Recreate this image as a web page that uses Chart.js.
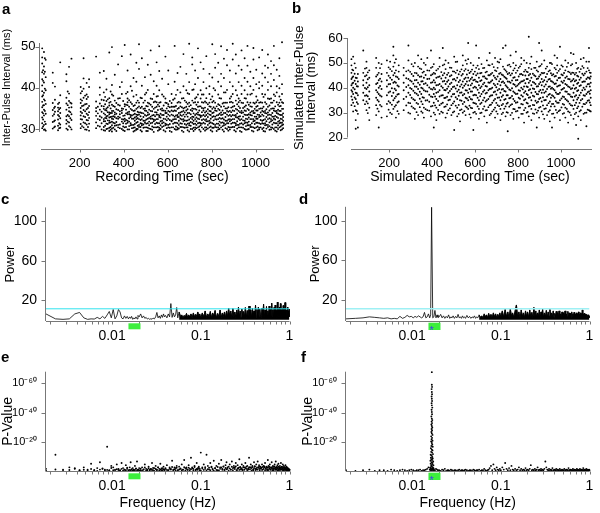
<!DOCTYPE html>
<html>
<head>
<meta charset="utf-8">
<script src="https://cdn.jsdelivr.net/npm/chart.js@4.4.0/dist/chart.umd.min.js"></script>
<style>
  body { margin: 0; background: #fff; }
  #fig { position: relative; width: 600px; height: 513px; overflow: hidden; }
  #fig canvas { position: absolute; }
  .tag { position: absolute; font: bold 15px/15px "Liberation Sans", Arial, sans-serif; color: #000; }
</style>
</head>
<body>
<div id="fig">
  <canvas id="panelA" width="300" height="190" style="left:0;top:0"></canvas>
  <canvas id="panelB" width="310" height="190" style="left:290px;top:0"></canvas>
  <canvas id="panelC" width="300" height="160" style="left:0;top:190px"></canvas>
  <canvas id="panelD" width="300" height="160" style="left:300px;top:190px"></canvas>
  <canvas id="panelE" width="300" height="173" style="left:0;top:340px"></canvas>
  <canvas id="panelF" width="300" height="173" style="left:300px;top:340px"></canvas>
  <div class="tag" style="left:2px;top:1px">a</div>
  <div class="tag" style="left:292px;top:0">b</div>
  <div class="tag" style="left:1px;top:191px">c</div>
  <div class="tag" style="left:299px;top:191px">d</div>
  <div class="tag" style="left:1px;top:349px">e</div>
  <div class="tag" style="left:301px;top:349px">f</div>
</div>
<script>
// ---- data ----

// a: recorded inter-pulse intervals, grouped in recording bouts (time in sec, ipi in ms)
const stripeTimesA = [30, 38, 46, 78, 88, 102, 112, 140, 152, 163, 205, 218, 232, 243, 275, 292,
  310, 322, 335, 347, 360, 375, 392, 405, 418, 432, 445, 458, 470, 483, 497, 510, 523, 537, 550, 562,
  575, 590, 603, 618, 632, 645, 658, 672, 685, 698, 712, 725, 738, 750, 763, 776, 790, 803, 816, 830,
  843, 856, 870, 883, 896, 910, 923, 936, 950, 963, 976, 990, 1003, 1016, 1030, 1043, 1056, 1070,
  1083, 1096, 1108, 1120];
const stripeIpiA = [
  [30.2,31.4,32.8,34.1,35.3,36.6,37.9,39.2,40.6,42.1,43.8,45.9,47.4,49.6],
  [29.8,31.0,33.3,34.7,35.8,37.2,38.8,41.3,43.4,45.2,48.7],
  [29.6,31.2,33.7,36.1,39.4,42.6,46.8],
  [30.1,31.7,33.2,34.6,36.3,41.2,43.7],
  [30.6,32.1,34.2,35.4,37.1,40.3],
  [29.7,30.8,32.3,33.4,34.3,35.2,36.1],
  [30.3,31.1,32.6,33.9,35.1,38.2,46.2],
  [30.1,31.3,32.2,33.1,34.7,36.2,37.6,41.6,43.3],
  [30.7,31.6,33.1,34.3,35.2,36.8,38.6,45.1],
  [29.9,32.2,33.6,35.3,36.2,47.1],
  [30.2,31.2,32.4,33.3,34.2,35.1,36.3,37.2,38.7,40.2],
  [30.4,31.6,33.1,34.6,35.7,37.6,39.8,42.3,47.2],
  [29.8,31.1,32.2,33.7,34.8,36.1,37.3,38.4,41.2],
  [29.6,31.3,32.7,34.1,35.6,40.2,42.1],
  [30.2,31.6,33.2,34.3,35.1,36.7,47.6],
  [30.6,32.2,33.1,34.7,36.2,38.3,40.1,43.7],
  [29.7,30.5,31.9,32.4,33.8,34.9,35.5,37.0,38.9,44.1],
  [30.0,31.3,32.6,33.1,34.5,35.0,36.8,39.6,42.2],
  [29.5,30.3,31.5,32.0,32.8,33.6,34.0,35.7,36.4,37.5,48.6],
  [29.4,30.1,30.9,31.8,32.5,33.0,33.9,34.4,35.9,38.4,40.7,49.9],
  [29.9,30.8,31.4,32.9,33.5,34.0,35.4,36.9,43.2],
  [30.4,31.0,32.5,33.0,34.6,35.9,37.4,45.7],
  [30.0,31.8,32.4,33.9,34.5,35.0,38.5,41.4,47.7],
  [29.5,30.4,31.9,32.5,33.3,35.5,36.0,50.4],
  [29.9,31.5,32.0,33.6,34.0,35.8,36.5,37.4,39.0,44.2],
  [30.9,31.4,32.9,33.4,34.9,36.5,40.4,48.1],
  [29.4,30.3,31.0,32.5,33.5,34.4,35.6,37.9,42.4],
  [29.8,30.0,31.5,32.4,33.0,33.5,34.9,36.4,38.3,41.5,46.1],
  [30.5,31.0,32.4,33.5,34.0,35.5,36.4,50.6,44.6],
  [29.4,30.9,31.3,32.4,33.9,35.4,37.5,40.5,47.2],
  [30.4,31.5,32.0,33.4,34.5,35.0,36.9,38.4,42.6],
  [29.5,30.3,31.4,32.5,33.4,34.0,35.5,36.4,39.5,45.6],
  [30.0,31.4,32.5,33.0,34.4,35.9,37.4,43.2,49.1],
  [29.3,30.4,31.9,32.3,33.4,34.9,36.5,38.5,41.6],
  [30.4,31.5,32.4,33.5,34.0,35.4,36.5,37.9,40.5,46.2],
  [29.8,30.3,31.4,32.9,33.3,35.5,36.4,39.4,44.1,50.1],
  [30.5,31.4,32.0,33.4,34.5,35.0,38.4,42.2],
  [29.4,30.9,31.3,32.4,33.9,34.4,36.4,37.4,47.6],
  [30.4,31.0,32.5,33.5,34.4,35.5,36.0,40.9,44.2],
  [29.3,30.4,31.9,32.0,33.5,34.5,35.4,36.3,38.5],
  [30.0,31.5,32.4,33.0,34.5,35.4,37.4,41.5,50.2],
  [29.9,30.3,31.4,32.9,33.4,34.9,36.4,39.5,43.6],
  [30.5,31.4,32.5,33.4,34.0,35.5,36.4,38.9,45.1],
  [29.3,30.4,31.9,32.4,33.5,34.4,35.0,37.5,40.4,48.2],
  [30.4,31.0,32.0,33.5,34.5,35.4,36.5,39.4,43.4],
  [29.4,30.9,31.4,32.3,33.9,35.5,36.4,38.5,41.4,50.7],
  [30.0,31.5,32.4,33.0,34.4,35.0,36.9,39.5,45.7,47.4],
  [29.9,30.4,31.3,32.4,33.4,34.9,36.5,37.4,40.9,44.2],
  [30.4,31.4,32.5,33.5,34.0,35.4,36.5,38.4,42.4,49.6],
  [29.4,30.9,31.4,32.9,33.3,35.5,37.4,39.4,46.2],
  [30.0,31.5,32.4,33.4,34.5,35.0,36.4,38.4,41.4,44.6],
  [29.9,30.4,31.9,32.4,33.4,34.3,36.4,37.5,39.9,47.7],
  [30.4,31.4,32.0,33.5,34.4,35.5,36.4,38.5,40.4,43.4],
  [29.4,30.3,31.4,32.9,33.9,34.9,36.5,37.9,42.5,50.6],
  [30.5,31.0,32.4,33.0,34.5,35.0,36.4,39.4,44.9,48.2],
  [29.9,30.4,31.3,32.4,33.4,34.9,36.0,38.4,41.5,46.1],
  [30.4,31.5,32.5,33.4,34.0,35.4,37.4,40.4,43.4,50.1],
  [29.4,30.9,31.4,32.3,33.9,35.5,36.4,38.9,42.4,47.1],
  [30.0,31.4,32.0,33.5,34.4,35.0,36.4,39.5,45.5,49.2],
  [29.9,30.4,31.9,32.4,33.4,34.4,36.5,37.4,41.4,44.2],
  [30.5,31.5,32.4,33.4,34.5,35.4,36.4,38.5,40.4,46.9,50.7],
  [29.4,30.9,31.4,32.9,33.4,34.9,36.9,39.4,43.5,48.1],
  [30.4,31.0,32.5,33.0,34.4,35.5,36.5,37.4,41.4,45.4],
  [29.3,30.4,31.4,32.4,33.9,34.4,36.4,38.5,40.5,44.4,49.1],
  [30.0,31.4,32.0,33.5,34.5,35.4,37.5,39.4,42.4,47.2],
  [29.9,30.9,31.5,32.4,33.4,34.9,36.5,38.4,41.5,45.4,50.2],
  [30.5,31.0,32.4,33.4,34.0,35.5,36.4,38.4,40.4,43.9],
  [29.4,30.4,31.9,32.4,33.9,34.4,36.4,39.5,42.4,46.9,49.7],
  [30.4,31.5,32.5,33.0,34.5,35.4,36.5,37.9,40.9,44.4],
  [29.9,30.3,31.4,32.9,33.4,34.9,36.4,39.9,41.4,47.4],
  [30.0,31.4,32.0,33.5,34.4,35.0,36.4,38.5,40.5,43.5,49.2],
  [29.4,30.9,31.4,32.4,33.9,34.4,36.5,38.4,42.5,45.4],
  [30.5,31.0,32.4,33.4,34.0,35.4,37.4,39.5,41.4,44.9,48.1],
  [29.9,30.4,31.9,32.4,33.4,34.9,36.4,37.4,40.4,43.4,46.5],
  [30.0,31.5,32.5,33.0,34.5,35.0,36.9,38.4,41.9,45.5,50.2],
  [29.4,30.4,31.4,32.9,33.9,34.4,36.5,38.9,40.4,44.4],
  [30.4,31.4,32.0,33.5,34.4,35.5,36.4,37.9,39.9,42.9,47.2],
  [29.9,30.9,31.5,32.4,33.4,34.9,36.5,38.5,40.9,51.1]
];
// a: the crowded 30-37 ms band between the bouts above
const bandTimesA = [34, 42, 84, 107, 146, 158, 211, 225, 238, 283, 300,
  316, 328, 341, 353, 367, 383, 398, 411, 425, 438, 451, 464, 477, 490, 503, 516, 530, 543, 556, 568,
  582, 596, 610, 625, 638, 651, 665, 678, 691, 705, 718, 731, 744, 756, 770, 783, 796, 809, 823, 836,
  850, 863, 876, 889, 903, 916, 929, 943, 956, 969, 983, 996, 1009, 1023, 1036, 1049, 1063, 1076,
  1089, 1102, 1114, 1125];
const bandIpiA = [
  [30.6,32.3,33.8,35.7,38.2,41.7,44.3], [29.9,31.8,34.4,36.9,39.8,43.9,47.2], [30.4,31.9,33.6,35.1],
  [30.2,31.4,33.1,34.8,36.4], [29.8,31.8,33.4,35.8,39.1], [30.4,32.6,34.1,36.4],
  [30.7,32.3,33.9,35.6,36.9,39.2], [29.9,31.4,32.9,34.3,36.0,38.1], [30.5,32.1,33.4,35.1,37.8],
  [30.8,32.4,33.8,35.4], [29.9,31.4,32.8,34.2,35.6,37.1],
  [29.6,30.8,31.9,32.7,33.5,34.6,36.0,37.8], [30.1,31.2,32.1,33.2,34.1,35.3,37.2],
  [29.8,30.5,31.6,32.9,33.9,35.0,36.6,39.1], [30.3,31.5,32.4,33.1,34.4,35.6,38.1],
  [29.5,30.9,31.7,32.6,33.7,34.8,36.3], [30.2,31.1,32.8,33.6,34.3,35.7,37.5,40.2],
  [29.7,30.6,31.4,32.3,33.2,34.9,36.8], [30.5,31.3,32.2,33.8,34.7,35.9,38.6],
  [29.9,30.7,31.8,32.6,33.6,34.2,35.4,37.0], [30.2,31.0,32.5,33.3,34.6,36.1,39.3],
  [29.6,30.4,31.2,32.0,32.8,33.7,34.5,35.8], [30.0,30.8,31.7,32.6,33.4,34.2,35.2,36.9],
  [29.7,30.5,31.4,32.2,33.1,34.0,35.1,37.6], [30.3,31.1,32.0,32.9,33.8,34.9,36.4],
  [29.5,30.4,31.3,32.3,33.2,34.4,35.6,38.8], [30.1,30.9,31.8,32.7,33.6,34.7,36.2],
  [29.8,30.6,31.5,32.5,33.3,34.3,35.4,37.3], [30.4,31.2,32.2,33.1,34.1,35.2,36.7],
  [29.6,30.5,31.4,32.4,33.5,34.6,35.9,38.0], [30.0,30.9,31.9,32.8,33.7,34.8,36.5],
  [29.7,30.7,31.6,32.5,33.4,34.5,35.7,37.9], [30.2,31.1,32.1,33.0,33.9,35.0,36.3],
  [29.5,30.3,31.2,32.2,33.2,34.2,35.3,36.8], [30.4,31.3,32.3,33.3,34.3,35.4,37.1],
  [29.8,30.6,31.5,32.4,33.3,34.4,35.6,38.3], [30.1,31.0,32.0,32.9,33.9,35.1,36.6],
  [29.6,30.5,31.3,32.3,33.2,34.2,35.3,37.4], [30.3,31.2,32.1,33.0,34.0,35.2,36.9],
  [29.7,30.4,31.3,32.1,33.0,33.9,34.8,36.1,38.7], [30.0,30.8,31.7,32.7,33.6,34.6,35.8],
  [29.5,30.3,31.2,32.0,32.9,33.8,34.9,36.4,39.6], [30.2,31.0,31.9,32.8,33.7,34.7,35.9,37.7],
  [29.8,30.6,31.5,32.4,33.4,34.5,35.5], [30.4,31.3,32.2,33.2,34.1,35.1,36.5,38.4],
  [29.6,30.4,31.3,32.2,33.1,34.0,35.2,36.7], [30.1,31.0,31.9,32.9,33.8,34.8,36.0],
  [29.7,30.6,31.6,32.5,33.4,34.3,35.4,37.2], [30.3,31.2,32.1,33.1,34.0,35.3,36.8,39.9],
  [29.5,30.4,31.3,32.3,33.3,34.4,35.5], [30.0,30.9,31.8,32.7,33.7,34.6,35.8,37.5],
  [29.8,30.7,31.6,32.6,33.5,34.5,36.2], [30.2,31.1,32.0,32.9,33.9,35.0,36.4,38.9],
  [29.6,30.5,31.4,32.3,33.2,34.2,35.3], [30.4,31.3,32.2,33.1,34.1,35.2,36.6,37.9],
  [29.7,30.5,31.5,32.4,33.3,34.4,35.6], [30.1,31.0,31.9,32.8,33.8,34.7,36.0,38.2],
  [29.5,30.4,31.3,32.2,33.1,34.1,35.1,36.9], [30.3,31.1,32.1,33.0,34.0,35.1,36.3],
  [29.8,30.7,31.6,32.5,33.4,34.4,35.7,37.4], [30.0,30.9,31.8,32.8,33.6,34.6,35.9],
  [29.6,30.5,31.4,32.4,33.3,34.3,35.4,38.6], [30.2,31.2,32.0,33.0,33.9,34.9,36.2],
  [29.7,30.6,31.5,32.5,33.5,34.5,35.6,37.0], [30.4,31.2,32.2,33.1,34.0,35.0,36.5],
  [29.5,30.3,31.3,32.2,33.2,34.2,35.4,37.8], [30.1,31.0,31.9,32.9,33.8,34.8,36.1],
  [29.8,30.7,31.6,32.6,33.5,34.5,35.7,37.3], [30.3,31.1,32.1,33.0,33.9,35.0,36.4],
  [29.6,30.4,31.4,32.3,33.2,34.3,35.5,38.0], [30.0,30.9,31.8,32.7,33.7,34.7,35.9],
  [29.7,30.6,31.5,32.5,33.4,34.4,35.6,37.1], [30.2,31.1,32.0,32.9,33.8,34.9,36.3]
];

// b: simulated inter-pulse intervals
const stripeTimesB = [25, 33, 45, 55, 80, 95, 108, 140, 152, 165, 190, 205, 220, 232, 245, 268, 290,
  305, 320, 335, 350, 362, 378, 395, 408, 420, 435, 450, 463, 476, 490, 503, 517, 530, 543, 556, 568,
  580, 592, 605, 618, 630, 643, 655, 668, 680, 693, 705, 718, 730, 742, 752, 765, 778, 790, 803, 815,
  828, 840, 850, 862, 875, 887, 898, 910, 922, 935, 948, 958, 970, 982, 995, 1008, 1020, 1033, 1046,
  1058, 1070, 1080, 1092, 1105, 1118, 1130, 1138];
const stripeIpiB = [
  [33,36.5,39,41,43.5,46,49,51.5], [30.5,34,37.5,40,42,44.5,47,52.5], [23.5,27,31,35.5,38,41.5,44,48],
  [24,29.5,33.5,37,40.5,42.5,45.5], [35,38,41,43,46,55], [31,34.5,37,39.5,42,45,48,50.5],
  [27,32,35.5,38.5,41,44,47], [29,33,36,39,41.5,44.5,48,52], [24,30.5,34.5,37.5,40,43,46,50],
  [28,32.5,36.5,39.5,42.5,45.5,49.5], [28.5,33.5,37,40.5,43,46,51], [30,34,38.5,41.5,44,47.5,50.5],
  [31.5,35,38,42,45,48.5,53,56.5], [28,33,36.5,39,42,44.5,47,51.5], [29.5,34.5,37.5,40.5,43.5,46.5,49],
  [31,35.5,39,42,45,48], [30,34,38,41,43.5,47,51,57], [32.5,36,39.5,42.5,45.5,49.5],
  [27.5,31.5,35,38,40.5,43,46,50], [29,33.5,37,39.5,42,45,48.5,53], [30.5,34.5,37.5,40,42.5,44.5,47.5,51.5],
  [28,32,36,39,41.5,44,46.5,50], [31,35,38.5,41,43.5,47,52], [28.5,32.5,36.5,39.5,42,45,48,55],
  [24,30,34,37.5,40,43,46,49.5], [27,32,35.5,38,41,44,47], [29.5,33,36.5,39,41.5,44.5,48.5,52],
  [30,34,37,40,42.5,45,49,56], [28,32.5,36,39,41.5,44,47.5,51], [31,35,38,40.5,43,46,50],
  [29,33,36.5,39.5,42,45,48], [23,30.5,34.5,37.5,40.5,43.5,46.5,52.5], [28.5,32,35.5,38.5,41,44,47,50.5],
  [26.5,31,35,38,40.5,43,46.5], [30,33.5,37,40,42.5,45.5,49,53], [29,32.5,36,39,41.5,44,47.5,51],
  [31.5,35,38,41,44,47,51.5,58], [28,32,35.5,38.5,41,43.5,46.5,50], [23,30,34,37,40,43,45.5,49],
  [29.5,33.5,37,40,42.5,45,48,57], [27.5,31.5,35,38,41,44,47.5,52], [30,34,37.5,40.5,43,46,49.5],
  [28.5,32.5,36,39,42,44.5,48], [26,31,35,38,40.5,43.5,46.5,51], [29,33,36.5,39.5,42,45,49,54],
  [30.5,34,37,40,43,46,49.5], [28,32,35.5,38.5,41,44,47,52], [29.5,33,36,39,41.5,44.5,48,50.5],
  [27,31.5,35,38,41,43.5,46,51.5], [30,33.5,37,39.5,42.5,45,48.5,56], [28.5,32.5,35.5,38.5,41,44,47,57],
  [22.5,30,34,37,40,42.5,45.5,49], [29,33,36,39,42,45,48.5,53], [27.5,31.5,35.5,38.5,41.5,44,47,50],
  [30.5,34,37.5,40.5,43,46,49,54.5], [28,32,36,39,41.5,44.5,48], [29.5,33.5,37,40,42.5,45.5,49.5,52],
  [26,31,35,38,40.5,43,46.5,51], [30,34,37.5,40.5,43.5,46.5,50], [28.5,32.5,36,39,42,45,48,60.5],
  [27,31.5,35,38,41,44,47.5,52.5], [29.5,33,36.5,39.5,42,45,48], [24,30,34,37.5,40.5,43.5,47,50.5],
  [28,32,35.5,38.5,41.5,44.5,48.5,58], [30.5,34.5,38,41,43.5,46,49.5,55], [27.5,31.5,35,38,40.5,43,46,51],
  [29,33,36.5,39.5,42.5,45.5,48.5], [26.5,31,34.5,37.5,40.5,43.5,47,50], [24,29.5,33.5,37,40,42.5,45,49.5],
  [28,32.5,36,39,41.5,44.5,48,53], [30,34,37.5,40.5,43,46,49,52], [27,31,35,38,41,44,47.5,56.5],
  [29.5,33.5,36.5,39.5,42,45,48.5], [28,32,35.5,38.5,41.5,44,47,51], [26,30.5,34.5,37.5,40.5,43.5,46.5,50],
  [29,33,36.5,39.5,42.5,45.5,49,54], [27.5,31.5,35,38,41,43.5,46,53.5], [25,30,34,37,40,43,46,50],
  [19.5,28.5,32.5,36,39,42,44.5,48], [27,31,35,38,41,44,47.5,51.5], [29.5,33.5,37,40,42.5,45,48,52],
  [24.5,30,34,37.5,40.5,43.5,46.5,50.5], [31,35,38.5,41.5,44,47,50.5,56], [30.5,33,36,39,42,44.5,46]
];
// b: further simulated pulses between the bouts above
const bandTimesB = [29, 40, 50, 88, 101, 146, 158, 198, 213, 226, 239, 280, 298, 313, 328, 343, 356,
  370, 387, 402, 414, 428, 443, 457, 470, 483, 497, 510, 524, 537, 550, 562, 574, 586, 599, 612, 624,
  637, 649, 662, 674, 687, 699, 712, 724, 736, 747, 759, 772, 784, 797, 809, 822, 834, 845, 856, 869,
  881, 893, 904, 916, 929, 942, 953, 964, 976, 989, 1002, 1014, 1027, 1040, 1052, 1064, 1075, 1086,
  1099, 1111, 1124, 1134];
const bandIpiB = [
  [35.2,38.4,41.7,44.1,47.3], [32.6,36.1,39.4,42.8,45.6,49.8], [30.7,34.2,37.8,40.6,43.9],
  [33.4,36.8,39.9,44.6,47.7], [29.8,33.7,36.6,40.2,43.4,46.2], [31.6,35.1,38.2,41.9,45.2],
  [33.1,36.9,40.7,43.6,47.9], [31.2,34.6,38.1,41.4,44.8,48.2], [29.4,33.2,36.7,39.8,43.2,46.7],
  [32.4,35.8,39.6,42.4,45.9,50.1], [30.6,34.1,37.3,40.9,44.2], [32.9,36.4,40.3,43.8,46.6],
  [29.6,33.8,37.1,39.9,42.9,46.4], [31.9,35.4,38.8,41.6,44.7,48.6], [30.2,33.9,37.6,40.4,43.1,45.8],
  [32.2,35.6,38.4,41.2,44.4,47.8], [29.9,33.4,36.2,39.7,42.6,46.1], [31.4,34.9,38.6,41.8,45.1,49.2],
  [30.8,34.4,37.2,40.1,43.6,46.9], [32.7,36.3,39.3,42.2,45.4,48.4], [29.2,32.9,36.5,39.4,42.1,45.6],
  [31.1,34.7,38.3,41.1,44.3,47.6], [30.4,33.6,36.9,40.6,43.7,46.3], [32.3,35.9,39.1,42.7,45.8,49.4],
  [29.7,33.3,36.4,39.6,42.4,45.2], [31.7,35.2,38.7,41.5,44.6,48.1], [30.1,33.7,37.4,40.3,43.3,46.6],
  [32.8,36.2,39.7,42.9,46.0,50.4], [29.5,33.1,36.8,39.2,42.3,45.4], [31.3,34.8,38.1,41.3,44.9,47.4],
  [30.6,34.3,37.5,40.8,43.5,46.8], [32.1,35.7,38.9,42.5,45.3,49.6], [29.3,32.8,36.3,39.5,42.8,45.9],
  [31.8,35.3,38.5,41.7,44.1,47.3], [30.3,33.8,37.2,40.4,43.2,46.5], [32.5,36.0,39.2,42.3,45.7,48.9],
  [29.8,33.5,36.6,39.9,42.7,45.8], [31.5,35.0,38.4,41.4,44.5,47.9], [30.9,34.5,37.7,40.7,43.8,46.2],
  [32.2,35.5,39.0,42.1,45.0,49.1], [29.6,33.2,36.9,39.6,42.5,45.5], [31.2,34.9,38.2,41.6,44.8,48.3],
  [30.5,33.9,37.3,40.2,43.4,46.7], [32.6,36.1,39.5,42.6,45.6,50.2], [29.4,33.0,36.4,39.3,42.2,45.3],
  [31.6,35.2,38.7,41.9,44.4,47.5], [30.2,33.6,37.0,40.5,43.6,46.4], [32.4,35.8,39.3,42.4,45.9,49.3],
  [29.9,33.4,36.7,39.8,42.9,45.7], [31.4,34.7,38.0,41.2,44.2,47.8], [30.7,34.2,37.6,40.9,43.1,46.9],
  [32.0,35.6,38.8,42.0,45.4,48.6], [29.5,33.3,36.5,39.4,42.6,45.1], [31.9,35.4,38.6,41.8,44.9,47.2],
  [30.3,33.7,37.1,40.3,43.5,46.3], [32.7,36.2,39.4,42.8,45.5,49.7], [29.7,33.1,36.8,39.7,42.3,45.6],
  [31.3,34.8,38.3,41.5,44.6,48.0], [30.8,34.4,37.4,40.6,43.7,46.5], [32.3,35.9,39.1,42.2,45.2,48.8],
  [29.3,32.9,36.2,39.2,42.4,45.8], [31.7,35.1,38.5,41.3,44.3,47.7], [30.4,33.8,37.2,40.4,43.3,46.6],
  [32.5,36.0,39.6,42.7,45.8,50.0], [29.6,33.5,36.6,39.5,42.1,45.4], [31.1,34.6,38.1,41.7,44.7,47.4],
  [30.6,34.0,37.5,40.8,43.9,46.8], [32.1,35.7,39.2,42.5,45.3,49.0], [29.8,33.2,36.3,39.9,42.8,45.9],
  [31.5,35.0,38.4,41.1,44.5,48.4], [30.1,33.6,37.3,40.2,43.4,46.2], [32.8,36.3,39.8,42.9,46.1,49.5],
  [29.4,33.0,36.5,39.6,42.6,45.3], [31.8,35.3,38.7,41.6,44.8,47.6], [30.5,33.9,37.0,40.7,43.2,46.4],
  [32.4,35.5,39.0,42.3,45.6,48.7], [29.9,33.4,36.8,39.3,42.5,45.7], [31.2,34.8,38.2,41.4,44.1,47.9],
  [30.7,34.1,37.6,40.5,43.6,46.1]
];

// c-f: frequency grid (Hz) shared by the spectra
const freqs = [
  0.0018,0.0023,0.0028,0.0033,0.0038,0.0043,0.0048,0.0053,0.0058,0.0063,
  0.0068,0.0073,0.0078,0.0083,0.0088,0.0093,0.0098,0.0103,0.0108,0.0113,
  0.0118,0.0123,0.0128,0.0133,0.0138,0.0143,0.0148,0.0153,0.0158,0.0162,
  0.0166,0.0171,0.0176,0.0181,0.0186,0.0191,0.0196,
  0.0202,0.021,0.0218,0.0226,0.0234,0.0242,0.025,0.0258,0.0266,0.0274,
  0.0282,0.029,0.03,0.031,0.032,0.033,0.034,0.035,0.036,0.037,
  0.038,0.039,0.04,0.0415,0.043,0.0445,0.046,0.0475,0.049,0.0505,
  0.052,0.0535,0.055,0.057,0.059,0.061,0.063,0.065,0.067,0.069,
  0.071,0.073,0.075,0.0775,0.08,0.0825,0.085,0.0875,0.09,0.0925,
  0.095,0.0975,
  0.1,0.104,0.108,0.112,0.116,0.12,0.124,0.128,0.132,0.136,0.14,
  0.145,0.15,0.155,0.16,0.165,0.17,0.175,0.18,0.185,0.19,0.195,
  0.2,0.206,0.212,0.218,0.224,0.23,0.236,0.242,0.248,0.254,0.26,0.266,0.272,0.278,0.284,0.29,0.296,0.302,
  0.31,0.318,0.326,0.334,0.342,0.35,0.358,0.366,0.374,0.382,0.39,0.398,0.406,0.414,0.422,0.43,0.438,0.446,0.454,0.462,0.47,
  0.48,0.49,0.5,0.51,0.52,0.53,0.54,0.55,0.56,0.57,
  0.58,0.59,0.6,0.61,0.62,0.63,0.64,0.65,0.66,0.67,
  0.68,0.69,0.7,0.71,0.72,0.73,0.74,0.75,0.76,0.77,
  0.78,0.79,0.8,0.81,0.82,0.83,0.84,0.85,0.86,0.87,
  0.88,0.89,0.9,0.91,0.92,0.93,0.94,0.95,0.96,0.97,
  0.98,0.99,1
];
const denseFrom = 0.057;   // above this the spectra are a solid mass of spikes

// c: power spectrum of the recording
const powerC = [
  6,1,0.5,1,6,7.5,2,0.5,1,0.8, 2.5,1,3.5,1.5,5,8.5,2,10.5,1,4, 10.5,8,2,1,4,1.5,3.5,1,3,1.5, 3.5,0.5,2,1,3,1,4.5,
  3,6,2,4,1.5,2.5,0.8,1.5,0.5,1.2, 0.6,1.8,1,3,7.5,2,4,1.5,5,2.5, 6,3,4.5,2,6,3,16.5,2.5,7,3,
  5,12.5,2,8,3.5,5,2,4.5,3,6.5, 2.5,5,3,6,2.5,7,3,5.5,3.5,8, 4,6,
  2,7,3,9,2.5,6,3,8.5,2,7,4,
  9.5,2,6.5,3,10,2.5,7,3.5,8,2,9,
  3,12,4,9,2,11.5,3.5,8,2.5,10,4,13,3,9,2,11,4.5,8.5,
  3,12.5,2.5,9.5,4,14,3,10,2,12,5,9,3,15,2.5,10.5,4,13,3,11,5,
  2.5,12,4,16,3,10,2,13.5,5,9, 3,14,2.5,11,4,17,3,10,2,12.5, 4.5,15,3,9.5,2,18,4,11,3,13,
  2.5,16.5,5,10,3,12,2,14.5,4,11, 3,17.5,2.5,12,4,10,3,13,2,9, 4,11,3
];

// d: power spectrum of the simulation
const powerD = [
  1,1.5,2,3,2.5,2,1.5,2,1,1.5, 1,3.5,1.5,2.5,4.5,3,3.5,2,3.5,2.5, 4,3,2,3,7.5,2,3,6,2,5, 113.5,2,3,9.5,2,5,2.5,
  3,5.5,2,4,1.5,3.5,2,5,1.5,3, 2,4,1.5,3.5,2,5.5,2,3,1.5,4, 2,3,1.5,4.5,2,3.5,1.5,3,2,4,
  1.5,3,2,5,2.5,4,2,6,3,5, 2,6.5,3,5.5,2.5,7,3,6,2,5.5, 3,7,
  3,9,2.5,10.5,3,8,2,11,4,7,2.5,
  9,15,3,8,2,10,3.5,7,2,9,3,
  8,2.5,10,3,7.5,2,12.5,3,9,2.5,7,3.5,10,2,8,3,11,2.5,
  7,3,9.5,2,8,3.5,10.5,2.5,7,3,9,2,6.5,3,8.5,2.5,7,3,9,2,6,
  3,8,2,7,3.5,9,2.5,6,3,8.5, 2,7,3,6.5,2.5,8,3,6,2,7.5, 3,5.5,2,7,3,6,2.5,8,2,5.5,
  3,7,2,6,3,10,2.5,5.5,3,6.5, 2,5,3,6,2,5.5,2.5,4.5,2,5, 3,4,2
];

// e, f: -log10(P) per frequency (two estimates per frequency for e)
const logPE = [
  2,11.5,1.5,3,2,1,3,1.5,5.5,1, 2.5,6.5,2,1.5,17,1,4,3,1.5,5, 2,1,6,2.5,1.5,4.5,2,1,3,6.5, 1.5,2.5,1,4,2,7,1.5,
  2.5,1,3,1.5,5,2,1,3.5,1.5,2, 6,1,2.5,4,1.5,3,2,5.5,1,2.5, 3.5,1.5,2,4.5,1,3,2,7.5,1.5,3,
  2.5,4,1,3.5,2,5,1.5,8,2.5,3, 1.5,4.5,2,9.5,3,2,4,1.5,6,2.5, 3.5,2,
  13,3,5,2,11.5,4,1.5,6,3,2,7.5,
  2.5,4,1,5.5,3,8,2,3.5,1.5,4.5,6.5,
  2,3.5,5,1.5,7,2.5,4,3,6,1,4.5,2.5,8.5,3,2,5,1.5,4,
  3,6,2,4,1.5,9.5,3,5,2.5,4,1,6.5,3.5,2,5,1.5,7,3,4.5,2,3.5,
  2.5,5,1.5,4,3,6,2,3.5,1,8, 4,2.5,5,1.5,3,6.5,2,4,1,3.5, 5,2.5,7,1.5,3,4.5,2,5.5,1,3,
  4,2,6,1.5,3.5,2.5,5,1,4,2, 3,1.5,4.5,2.5,3.5,1,3,2,2.5,1.5, 2,1,1.5
];
const logPE2 = [
  0.8,1.6,0.6,1.2,2.4,0.9,1.4,0.7,1.9,1.1, 0.6,1.5,2.2,0.8,1.3,0.7,2.6,1.0,0.6,1.7,
  1.2,0.8,2.0,0.7,1.4,1.0,2.8,0.6,1.3,0.9, 1.8,0.7,1.5,1.1,2.3,0.8,1.2,
  1.0,2.1,0.7,1.6,2.9,0.9,1.4,2.4,0.8,1.7, 1.2,2.6,0.6,1.9,1.1,3.0,0.8,1.5,2.2,1.0,
  1.7,0.7,2.5,1.3,0.9,2.0,1.5,3.2,0.8,1.8, 1.1,2.7,0.7,1.6,2.3,1.0,1.4,3.1,0.9,2.0,
  1.3,2.8,0.8,1.7,2.4,1.1,3.3,0.9,1.9,1.4, 2.6,1.0,
  0.7,2.2,1.3,3.1,0.9,1.8,2.7,1.1,3.5,1.5,0.8,
  2.4,1.2,3.3,0.9,2.0,2.9,1.4,3.7,1.0,2.6,1.7,
  3.0,0.8,2.3,1.5,3.4,1.1,2.8,1.9,3.6,0.9,2.1,2.7,1.3,3.2,1.6,2.5,0.8,3.0,
  1.4,2.6,3.5,1.0,2.2,3.1,1.7,2.9,0.9,3.3,1.5,2.4,3.8,1.2,2.0,3.0,1.6,2.7,3.4,1.1,2.3,
  2.8,1.3,3.2,2.0,3.6,1.0,2.5,3.1,1.7,2.9, 1.2,3.4,2.2,1.5,3.0,2.6,1.1,3.3,1.9,2.4,
  3.7,1.4,2.8,2.0,3.2,1.0,2.6,3.5,1.6,2.2, 3.0,1.3,2.7,1.8,3.3,2.1,1.2,2.9,1.6,2.4,
  3.1,1.0,2.3,1.7,2.8,1.4,2.0,1.1,1.8,1.3, 1.6,0.9,1.2
];
const logPF = [
  1,0.5,1,1.5,0.5,1,1,0.5,1.5,1, 0.5,1,1.5,1,0.5,1,1.5,1,0.5,1, 1,1.5,0.5,1,1,1.5,2,3,1.5,2.5, 4,2,1.5,1,2,1.5,1,
  1,0.5,1.5,1,2,0.5,1,1,0.5,1.5, 1,0.5,1,1,0.5,1,1.5,0.5,1,1, 0.5,1,1.5,1,0.5,1,1,0.5,1.5,1,
  0.5,1,1,1.5,0.5,1,1,2,1,0.5, 1,1.5,2.5,4,1,5,2,1,3,1.5, 1,2,
  1,3,1.5,6,2,1,2.5,1,4,1.5,1,
  2,1,1.5,3,1,2,1,1.5,1,2.5,1,
  1.5,1,2,4.5,1,1.5,1,2,1,1.5,3,1,1.5,1,2,1,1.5,1,
  2,7,3,1.5,1,2,1,1.5,1,2.5,1,1,1.5,1,2,1,1.5,1,1,2,1,
  1,1.5,1,1,2,1,1,1.5,1,1, 2.5,1,1,1.5,1,1,1,2,1,1, 1.5,1,1,1,2,1,1.5,1,1,1,
  2,1,1,1.5,1,1,1,2.5,1,1, 1.5,1,1,1,2,1,1,1.5,1,1, 1,1.5,1
];
// f: the pile of very small P-values at the simulated period
const peakFreqF = [
  0.0167,0.0167,0.0168,0.0166,0.0167,0.0168,0.0166,0.0167,0.0168,0.0166,
  0.0167,0.0169,0.0166,0.0167,0.0168,0.0165,0.0167,0.0169,0.0166,0.0168,
  0.0165,0.0167,0.0169,0.0166,0.0168,0.0165,0.0167,0.017,0.0164,0.0168,
  0.0166,0.017,0.0164,0.0167,0.0169,0.0165,0.0171,0.0163,0.0167,0.017,
  0.0164,0.0168,0.0172,0.0162,0.0166,0.0169,0.0163,0.0171,0.0165,0.0168,
  0.0161,0.0173,0.0166,0.017,0.0162,0.0168,0.0174,0.0164,0.0167,0.0172,
  0.016,0.0169,0.0175,0.0163,0.0166,0.0171,0.0161,0.0168,0.0176,0.0164
];
const peakLogPF = [
  67.5,59,57.5,56,54,52.5,51,49.5,48,46.5, 45,43.5,42,40.5,39,37.5,36,35,34,33,
  32,31,30,29,28,27,26,25,24,23, 22,21,20.5,19.5,18.5,17.5,17,16,15,14.5,
  13.5,13,12,11.5,11,10,9.5,9,8.5,8, 7.5,7,6.5,6,5.5,5,4.5,4,3.5,3,
  2.75,2.5,2.25,2,1.75,1.5,1.25,1,0.75,0.5
];

const powerThreshold = 11.2;          // significance level drawn in cyan
const bandFreqs = [0.0153, 0.0209];   // green band under the frequency axis
const simFreq = 0.0166;               // blue star

// axis ticks
const timeTicks = [200, 400, 600, 800, 1000];
const ipiTicksA = [30, 40, 50];
const ipiTicksB = [20, 30, 40, 50, 60];
const powerTicks = [20, 60, 100];
const logPTicks = [20, 40, 60];
const logPLabels = ['10\u207B\u00B2\u2070', '10\u207B\u2074\u2070', '10\u207B\u2076\u2070'];
const freqTicks = [0.002,0.003,0.004,0.005,0.006,0.007,0.008,0.009,
  0.01,0.02,0.03,0.04,0.05,0.06,0.07,0.08,0.09,
  0.1,0.2,0.3,0.4,0.5,0.6,0.7,0.8,0.9,1];
const freqLabelValues = [0.01, 0.1, 1];
const freqLabelText = ['0.01', '0.1', '1'];

// ---- drawing ----
const FONT = '"Liberation Sans", Arial, sans-serif';
Chart.defaults.font.family = FONT;
Chart.defaults.color = '#000';

// Igor-style axes: y line only over the plot, x line a bit below
const offsetAxes = {
  id: 'offsetAxes',
  afterDraw(chart, args, opts) {
    const { ctx, chartArea: area, scales } = chart;
    const xs = scales.x, ys = scales.y;
    const left = Math.round(area.left) - 0.5;
    const base = Math.round(area.bottom + opts.gap) + 0.5;
    ctx.save();
    ctx.strokeStyle = '#777';
    ctx.lineWidth = 1;
    ctx.beginPath();
    ctx.moveTo(left, area.top);
    ctx.lineTo(left, area.bottom);
    ctx.moveTo(area.left + opts.xStart, base);
    ctx.lineTo(area.right, base);
    ys.ticks.forEach(t => {
      const py = Math.round(ys.getPixelForValue(t.value)) + 0.5;
      ctx.moveTo(left - 4, py);
      ctx.lineTo(left, py);
    });
    xs.ticks.forEach(t => {
      const px = Math.round(xs.getPixelForValue(t.value)) + 0.5;
      ctx.moveTo(px, base);
      ctx.lineTo(px, base + 3);
    });
    ctx.stroke();
    ctx.restore();
  }
};

const bandMark = {
  id: 'bandMark',
  afterDraw(chart, args, opts) {
    const { ctx, chartArea: area, scales: { x } } = chart;
    const x0 = x.getPixelForValue(bandFreqs[0]);
    const x1 = x.getPixelForValue(bandFreqs[1]);
    ctx.save();
    ctx.fillStyle = '#3cee3c';
    ctx.fillRect(x0, area.bottom + opts.top, x1 - x0, opts.height);
    if (opts.star) {
      ctx.fillStyle = '#3b3bf2';
      ctx.font = '11px ' + FONT;
      ctx.textAlign = 'center';
      ctx.textBaseline = 'alphabetic';
      ctx.fillText('*', x.getPixelForValue(simFreq), area.bottom + opts.top + 11);
    }
    ctx.restore();
  }
};

function scale(o) {
  return {
    type: o.type || 'linear',
    min: o.min,
    max: o.max,
    grid: { display: false, drawTicks: false },
    border: { display: false },
    afterBuildTicks: s => { s.ticks = o.ticks.map(v => ({ value: v })); },
    afterFit: s => {
      if (o.width != null) s.width = o.width;
      if (o.height != null) s.height = o.height;
    },
    ticks: {
      autoSkip: false, maxRotation: 0, padding: o.pad, color: '#000',
      font: { family: FONT, size: o.tickSize },
      callback: o.label || (v => String(v))
    },
    title: {
      display: !!o.title, text: o.title || '', color: '#000',
      font: { family: FONT, size: o.titleSize || 14, lineHeight: o.titleLH || 1.2 },
      padding: o.titlePad || 0
    }
  };
}

function freqLabel(v) {
  const i = freqLabelValues.indexOf(v);
  return i >= 0 ? freqLabelText[i] : '';
}
function logPLabel(v) {
  const i = logPTicks.indexOf(v);
  return i >= 0 ? logPLabels[i] : '';
}

function dots(points) {
  return { data: points, pointRadius: 0.95, pointBorderWidth: 0, pointBackgroundColor: '#000', clip: false };
}

function makeChart(id, datasets, o) {
  return new Chart(document.getElementById(id), {
    type: 'scatter',
    data: { datasets: datasets },
    options: {
      responsive: false,
      animation: false,
      events: [],
      layout: { padding: o.padding },
      plugins: {
        legend: { display: false },
        tooltip: { enabled: false },
        offsetAxes: { gap: o.gap, xStart: o.xStart || 0 },
        bandMark: o.band || {}
      },
      scales: { x: o.x, y: o.y }
    },
    plugins: o.band ? [offsetAxes, bandMark] : [offsetAxes]
  });
}

function stripePoints(times, ipis) {
  const pts = [];
  times.forEach((t, i) => (ipis[i] || []).forEach(v => pts.push({ x: t, y: v })));
  return pts;
}
function spectrum(vals, from) {
  return freqs.map((f, i) => ({ x: f, y: vals[i] }))
    .filter(p => p.y != null && p.x >= (from || 0));
}

// a
makeChart('panelA', [
  dots(stripePoints(stripeTimesA, stripeIpiA)),
  dots(stripePoints(bandTimesA, bandIpiA))
], {
  padding: { left: 0, top: 43, right: 16, bottom: 0 }, gap: 17, xStart: 1,
  x: scale({ min: 20, max: 1129, ticks: timeTicks, height: 58, pad: 23.2, tickSize: 13,
    title: 'Recording Time (sec)', titleSize: 14, titlePad: { top: 0, bottom: 4.6 } }),
  y: scale({ min: 29.27, max: 50.9, ticks: ipiTicksA, width: 40, pad: 4.5, tickSize: 13,
    title: 'Inter-Pulse Interval (ms)', titleSize: 11, titlePad: { top: 0, bottom: 0 } })
});

// b
makeChart('panelB', [
  dots(stripePoints(stripeTimesB, stripeIpiB)),
  dots(stripePoints(bandTimesB, bandIpiB))
], {
  padding: { left: 0, top: 38, right: 8, bottom: 0 }, gap: 11.5, xStart: 3,
  x: scale({ min: 9, max: 1144, ticks: timeTicks, height: 52.5, pad: 18, tickSize: 13,
    title: 'Simulated Recording Time (sec)', titleSize: 14, titlePad: { top: 0, bottom: 4.9 } }),
  y: scale({ min: 20, max: 60, ticks: ipiTicksB, width: 58, pad: 5.3, tickSize: 13,
    title: ['Simulated Inter-Pulse', 'Interval (ms)'], titleSize: 13, titleLH: 0.885,
    titlePad: { top: 4, bottom: 0 } })
});

// c, d
function powerPanel(id, vals, o) {
  makeChart(id, [
    { data: [{ x: 0.0018, y: powerThreshold }, { x: 1, y: powerThreshold }], showLine: true,
      borderColor: o.cyan, borderWidth: o.cyanWidth, pointRadius: 0 },
    { data: spectrum(vals), showLine: true, borderColor: '#000', borderWidth: 0.8, pointRadius: 0 },
    { data: spectrum(vals, denseFrom), showLine: true, borderColor: '#000', borderWidth: 0.8,
      pointRadius: 0, fill: 'origin', backgroundColor: '#000' }
  ], {
    padding: { left: 0, top: 13, right: 5, bottom: 0 }, gap: 0, band: o.band,
    x: scale({ type: 'logarithmic', min: 0.0018, max: 1, ticks: freqTicks, height: 29, pad: 6.6,
      tickSize: 14, label: freqLabel }),
    y: scale({ min: -1.17, max: 114, ticks: powerTicks, width: 46, pad: o.yPad, tickSize: 14,
      title: 'Power', titleSize: 13, titlePad: { top: o.titleTop, bottom: 0 } })
  });
}
powerPanel('panelC', powerC, { cyan: '#2fe3ee', cyanWidth: 1, yPad: 9, titleTop: 2.2,
  band: { top: 2.3, height: 6 } });
powerPanel('panelD', powerD, { cyan: '#9ef0f4', cyanWidth: 1.6, yPad: 8.4, titleTop: 8,
  band: { top: 1.7, height: 7.3, star: true } });

// e, f
function pPanel(id, datasets, o) {
  makeChart(id, datasets, {
    padding: { left: 0, top: 31.7, right: 5, bottom: 0 }, gap: 0, band: o.band,
    x: scale({ type: 'logarithmic', min: 0.0018, max: 1, ticks: freqTicks, height: 42, pad: 6.6,
      tickSize: 14, label: freqLabel, title: 'Frequency (Hz)', titleSize: 14,
      titlePad: { top: 0, bottom: 1.9 } }),
    y: scale({ min: 0.54, max: 67.8, ticks: logPTicks, width: 46, pad: 9, tickSize: 11,
      label: logPLabel, title: 'P-Value', titleSize: 14, titlePad: { top: 0, bottom: 0 } })
  });
}
pPanel('panelE', [dots(spectrum(logPE)), dots(spectrum(logPE2))], { band: { top: 2.3, height: 6 } });
pPanel('panelF', [
  dots(spectrum(logPF)),
  dots(peakLogPF.map((v, i) => ({ x: peakFreqF[i], y: v })))
], { band: { top: 1.7, height: 7.3, star: true } });
</script>
</body>
</html>
